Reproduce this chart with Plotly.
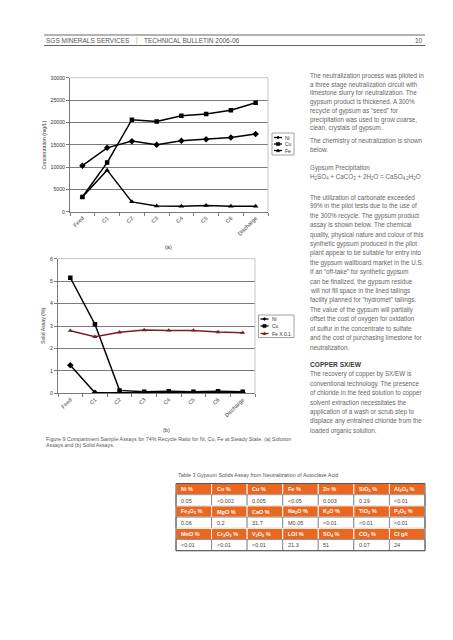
import plotly.graph_objects as go

W, H = 453, 640


def X(p):
    return p / W


def Y(p):
    return 1 - p / H


# ---------------- data ----------------
categories = ["Feed", "C1", "C2", "C3", "C4", "C5", "C6", "Discharge"]

sol_ni = [10300, 14300, 15800, 15000, 15900, 16200, 16600, 17400]
sol_cu = [3300, 11000, 20600, 20200, 21500, 21900, 22700, 24400]
sol_fe = [3300, 9300, 2200, 1300, 1200, 1400, 1200, 1200]

solid_ni = [1.25, 0.03, 0.03, 0.03, 0.03, 0.03, 0.03, 0.03]
solid_cu = [5.15, 3.08, 0.13, 0.07, 0.09, 0.07, 0.09, 0.07]
solid_fe01 = [2.79, 2.52, 2.72, 2.82, 2.80, 2.80, 2.73, 2.70]

legend_a = ["Ni", "Cu", "Fe"]
legend_b = ["Ni", "Cu", "Fe X 0.1"]

table_headers = [
    ["Ni %", "Co %", "Cu %", "Fe %", "Zn %", "SiO<sub>2</sub> %", "Al<sub>2</sub>O<sub>3</sub> %"],
    ["Fe<sub>2</sub>O<sub>3</sub> %", "MgO %", "CaO %", "Na<sub>2</sub>O %", "K<sub>2</sub>O %", "TiO<sub>2</sub> %", "P<sub>2</sub>O<sub>5</sub> %"],
    ["MnO %", "Cr<sub>2</sub>O<sub>3</sub> %", "V<sub>2</sub>O<sub>5</sub> %", "LOI %", "SO<sub>4</sub> %", "CO<sub>3</sub> %", "Cl g/t"],
]
table_values = [
    ["0.05", "&lt;0.002", "0.005", "&lt;0.05", "0.003", "0.19", "&lt;0.01"],
    ["0.06", "0.2", "31.7", "M0.05", "&lt;0.01", "&lt;0.01", "&lt;0.01"],
    ["&lt;0.01", "&lt;0.01", "&lt;0.01", "21.3", "51", "0.07", "24"],
]

para1 = [
    "The neutralization process was piloted in",
    "a three stage neutralization circuit with",
    "limestone slurry for neutralization. The",
    "gypsum product is thickened. A 300%",
    "recycle of gypsum as “seed” for",
    "precipitation was used to grow coarse,",
    "clean, crystals of gypsum.",
]
para2 = ["The chemistry of neutralization is shown", "below."]
para3 = [
    "Gypsum Precipitation",
    "H<sub>2</sub>SO<sub>4</sub> + CaCO<sub>3</sub> + 2H<sub>2</sub>O = CaSO<sub>4.2</sub>H<sub>2</sub>O",
]
para4 = [
    "The utilization of carbonate exceeded",
    "99% in the pilot tests due to the use of",
    "the 300% recycle. The gypsum product",
    "assay is shown below. The chemical",
    "quality, physical nature and colour of this",
    "synthetic gypsum produced in the pilot",
    "plant appear to be suitable for entry into",
    "the gypsum wallboard market in the U.S.",
    "If an “off-take” for synthetic gypsum",
    "can be finalized, the gypsum residue",
    "will not fill space in the lined tailings",
    "facility planned for “hydromet” tailings.",
    "The value of the gypsum will partially",
    "offset the cost of oxygen for oxidation",
    "of sulfur in the concentrate to sulfate",
    "and the cost of purchasing limestone for",
    "neutralization.",
]
heading5 = "COPPER SX/EW"
para5 = [
    "The recovery of copper by SX/EW is",
    "conventional technology. The presence",
    "of chloride in the feed solution to copper",
    "solvent extraction necessitates the",
    "application of a wash or scrub step to",
    "displace any entrained chloride from the",
    "loaded organic solution.",
]

caption = [
    "Figure 9 Compartment Sample Assays for 74% Recycle Ratio for Ni, Cu, Fe at Steady State. (a) Solution",
    "Assays and (b) Solid Assays.",
]
table_caption = "Table 3 Gypsum Solids Assay from Neutralization of Autoclave Acid"

# ---------------- styles ----------------
CHART_FONT = "Liberation Sans, Arial, sans-serif"
BODY_FONT = "Liberation Sans, Arial, sans-serif"
GRID = "#7a7a7a"
BORDER_LIGHT = "#c4c4c4"
FE_RED = "#7a1e1e"
ORANGE = "#EB661F"
BODY_COLOR = "#666666"

fig = go.Figure()

series_a = [(sol_ni, "diamond", 5), (sol_cu, "square", 4.5), (sol_fe, "triangle-up", 5)]
for vals, sym, sz in series_a:
    fig.add_trace(go.Scatter(
        x=categories, y=vals, mode="lines+markers",
        line=dict(color="black", width=1.5),
        marker=dict(symbol=sym, size=sz, color="black"),
        xaxis="x", yaxis="y", showlegend=False, hoverinfo="skip"))

series_b = [(solid_ni, "diamond", 5, "black"), (solid_cu, "square", 4.5, "black"),
            (solid_fe01, "triangle-up", 4.5, FE_RED)]
for vals, sym, sz, col in series_b:
    fig.add_trace(go.Scatter(
        x=categories, y=vals, mode="lines+markers",
        line=dict(color=col, width=1.5),
        marker=dict(symbol=sym, size=sz, color=col),
        xaxis="x2", yaxis="y2", showlegend=False, hoverinfo="skip"))

xcommon = dict(type="category", range=[-0.5, 7.5], tickson="boundaries", ticks="outside",
               ticklen=3, tickcolor=GRID, showline=True, linecolor=GRID, linewidth=1,
               showgrid=False, tickangle=-45, automargin=False,
               tickfont=dict(family=CHART_FONT, size=5.5, color="#333"))
ycommon = dict(ticks="outside", ticklen=3, tickcolor=GRID, showline=True, linecolor=GRID,
               linewidth=1, showgrid=True, gridcolor=GRID, gridwidth=1, zeroline=False,
               automargin=False, tickfont=dict(family=CHART_FONT, size=5.2, color="#333"))

fig.update_layout(
    width=W, height=H, margin=dict(l=0, r=0, t=0, b=0),
    paper_bgcolor="white", plot_bgcolor="white", showlegend=False,
    xaxis=dict(domain=[X(62), X(260)], anchor="y", **xcommon),
    yaxis=dict(domain=[Y(203.7), Y(69.7)], anchor="x", range=[0, 30000], dtick=5000,
               tickformat="d", **ycommon),
    xaxis2=dict(domain=[X(50), X(247)], anchor="y2", **xcommon),
    yaxis2=dict(domain=[Y(385.3), Y(250.7)], anchor="x2", range=[0, 6], dtick=1, **ycommon),
)

shapes = []
ann = []


def text(x, y, s, size, color=BODY_COLOR, family=BODY_FONT, anchor="left", angle=0):
    ann.append(dict(x=X(x), y=Y(y), xref="paper", yref="paper", text=s, showarrow=False,
                    xanchor=anchor, yanchor="middle", textangle=angle,
                    font=dict(family=family, size=size, color=color)))


def line(x0, y0, x1, y1, color, width):
    shapes.append(dict(type="line", xref="paper", yref="paper", x0=X(x0), y0=Y(y0),
                       x1=X(x1), y1=Y(y1), line=dict(color=color, width=width)))


def rect(x0, y0, x1, y1, fill, color, width, layer="above"):
    shapes.append(dict(type="rect", xref="paper", yref="paper", x0=X(x0), y0=Y(y0),
                       x1=X(x1), y1=Y(y1), fillcolor=fill, layer=layer,
                       line=dict(color=color, width=width)))


def marker_shape(kind, cx, cy, s, color):
    if kind == "square":
        rect(cx - s, cy - s, cx + s, cy + s, color, color, 0.5)
        return
    if kind == "diamond":
        pts = [(cx - s, cy), (cx, cy - s), (cx + s, cy), (cx, cy + s)]
    else:
        pts = [(cx - s, cy + s * 0.8), (cx, cy - s), (cx + s, cy + s * 0.8)]
    path = "M " + " L ".join(f"{X(px)},{Y(py)}" for px, py in pts) + " Z"
    shapes.append(dict(type="path", xref="paper", yref="paper", path=path,
                       fillcolor=color, line=dict(color=color, width=0.5)))


# header
line(36, 27, 417, 27, "#9a9a9a", 1.5)
line(36, 37.5, 417, 37.5, "#3a3a3a", 0.8)
text(36, 32.3, "SGS MINERALS SERVICES", 6.5, "#555")
text(126, 32.3, "|", 7, "#E8A33D")
text(134, 32.3, "TECHNICAL BULLETIN 2006-06", 6.5, "#555")
text(417, 32.3, "10", 6.5, "#555", anchor="right")

# plot borders (top/right light grey)
for (l, r, t, b) in [(62, 260, 69.7, 203.7), (50, 247, 250.7, 385.3)]:
    line(l, t, r, t, BORDER_LIGHT, 1)
    line(r, t, r, b, BORDER_LIGHT, 1)

# axis titles and sub-figure labels
text(35.5, 137, "Concentration (mg/L)", 5.2, "#333", CHART_FONT, "center", -90)
text(35, 318, "Solid Assay (%)", 5.2, "#333", CHART_FONT, "center", -90)
text(160, 238.5, "(a)", 5.5, "#333", CHART_FONT, "center")
text(158, 421.5, "(b)", 5.5, "#333", CHART_FONT, "center")


# legends
def legend(box, labels, colors, ys):
    x0, y0, x1, y1 = box
    rect(x0, y0, x1, y1, "white", "#8a8a8a", 0.8)
    kinds = ["diamond", "square", "triangle"]
    for lab, col, yy, k in zip(labels, colors, ys, kinds):
        line(x0 + 2, yy, x0 + 10, yy, col, 1.3)
        marker_shape(k, x0 + 6, yy, 1.6, col)
        text(x0 + 11, yy, lab, 5, "#333", CHART_FONT)


legend((264, 125, 286, 147), legend_a, ["black", "black", "black"], [129.5, 136, 142.5])
legend((250.5, 307, 286, 329.5), legend_b, ["black", "black", FE_RED], [311, 318, 325.5])

# caption
text(36, 431, caption[0], 5.3, "#555", CHART_FONT)
text(36, 436.8, caption[1], 5.3, "#555", CHART_FONT)

# right column text
FS = 6.3
TX = 300
y = 68
for s in para1:
    text(TX, y, s, FS)
    y += 8.7
y = 133
for s in para2:
    text(TX, y, s, FS)
    y += 8.7
text(TX, 160.5, para3[0], FS)
text(TX, 169, para3[1], FS)
LH = 9.4
y = 189
for s in para4:
    text(TX, y, s, FS)
    y += LH
y += 8 - LH + LH
text(TX, y, "<b>" + heading5 + "</b>", 6.6, "#3a3a3a")
y += LH
for s in para5:
    text(TX, y, s, FS)
    y += LH

# table
text(168, 467, table_caption, 5.4, "#555", CHART_FONT)
TL, TR, TT = 168, 417, 475.5
RH = 11.2
CW = (TR - TL) / 7
r = 0
for hdr_row, val_row in zip(table_headers, table_values):
    for kind, row in (("h", hdr_row), ("v", val_row)):
        top = TT + r * RH
        for c, s in enumerate(row):
            x0 = TL + c * CW
            if kind == "h":
                rect(x0, top, x0 + CW, top + RH, ORANGE, "white", 1)
                text(x0 + 3, top + RH / 2 + 0.3, "<b>" + s + "</b>", 5.5, "white", BODY_FONT)
            else:
                rect(x0, top, x0 + CW, top + RH, "white", "#7a7a7a", 0.8)
                text(x0 + 3, top + RH / 2 + 0.3, s, 5.5, "#444", BODY_FONT)
        r += 1
rect(TL, TT, TR, TT + 6 * RH, "rgba(0,0,0,0)", "#555", 1)

fig.update_layout(shapes=shapes, annotations=ann)
fig.write_html("out.html")
